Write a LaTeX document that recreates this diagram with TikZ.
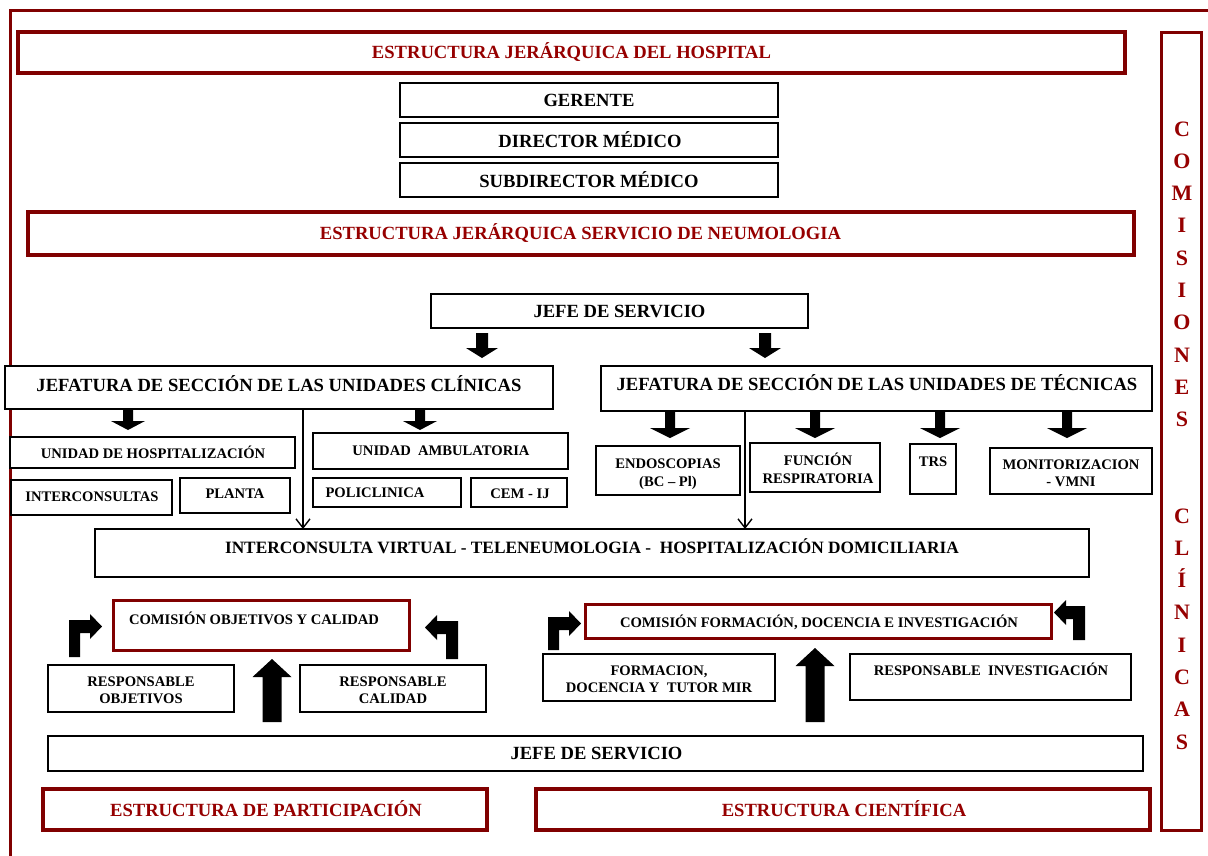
\documentclass[tikz,border=0pt]{standalone}
\usepackage{fontspec}
\setmainfont{Liberation Serif}
\usetikzlibrary{arrows.meta}
\definecolor{dred}{RGB}{128,0,0}
\definecolor{tred}{RGB}{150,0,0}
\newcommand\fL{\fontsize{18.6}{22}\selectfont\bfseries}
\newcommand\fM{\fontsize{17.3}{20}\selectfont\bfseries}
\newcommand\fS{\fontsize{14.6}{17}\selectfont\bfseries}
\newcommand\fV{\fontsize{22}{26}\selectfont\bfseries}
\newcommand\bxn[6]{\node[#6,anchor=north west,inner sep=0pt,outer sep=0pt,minimum width={#4pt-#2pt},minimum height={#5pt-#3pt}] (#1) at (#2,#3) {};}
\newcommand\dnarrow[6]{\fill (#1-#5,#2) -- (#1+#5,#2) -- (#1+#5,#3) -- (#1+#6,#3) -- (#1,#4) -- (#1-#6,#3) -- (#1-#5,#3) -- cycle;}
\begin{document}
\begin{tikzpicture}[x=1pt,y=-1pt,
  bbox/.style={draw=black,line width=1.6pt,fill=white},
  rbox/.style={draw=dred,line width=3.8pt,fill=white},
  rboxs/.style={draw=dred,line width=3pt,fill=white},
  tL/.style={font=\fL,anchor=base,inner sep=0pt},
  tM/.style={font=\fM,anchor=base,inner sep=0pt},
  tS/.style={font=\fS,anchor=base,inner sep=0pt},
  tR/.style={font=\fL,text=tred,anchor=base,inner sep=0pt},
  tRs/.style={font=\fS,anchor=base,inner sep=0pt},
  tarrow/.style={draw=black,line width=1.4pt,-{Straight Barb[length=9pt,width=14pt,line width=1.4pt]}}]
\useasboundingbox (0,0) rectangle (1208,855);
\fill[white] (0,0) rectangle (1208,855);
% outer frame
\draw[dred,line width=3pt] (10,857) -- (10,10) -- (1210,10);
% boxes
\bxn{hosp}{18}{32}{1125}{73}{rbox}
\bxn{ger}{400}{83}{778}{117}{bbox}
\bxn{dir}{400}{123}{778}{157}{bbox}
\bxn{sub}{400}{163}{778}{197}{bbox}
\bxn{neu}{28}{212}{1134}{255}{rbox}
\bxn{jefe}{431}{294}{808}{328}{bbox}
\bxn{jcl}{5}{366}{553}{409}{bbox}
\bxn{jte}{601}{366}{1152}{411}{bbox}
\bxn{uho}{10}{437}{295}{468}{bbox}
\bxn{uam}{313}{433}{568}{469}{bbox}
\bxn{int}{11}{480}{172}{515}{bbox}
\bxn{pla}{180}{478}{290}{513}{bbox}
\bxn{pol}{313}{478}{461}{507}{bbox}
\bxn{cem}{471}{478}{567}{507}{bbox}
\bxn{end}{596}{446}{740}{495}{bbox}
\bxn{fun}{750}{443}{880}{492}{bbox}
\bxn{trs}{910}{444}{956}{494}{bbox}
\bxn{mon}{990}{448}{1152}{494}{bbox}
\bxn{iv}{95}{529}{1089}{577}{bbox}
\bxn{cob}{113}{600}{409}{650}{rboxs}
\bxn{cfo}{585}{604}{1051}{638}{rboxs}
\bxn{rob}{48}{665}{234}{712}{bbox}
\bxn{rca}{300}{665}{486}{712}{bbox}
\bxn{fdt}{543}{654}{775}{701}{bbox}
\bxn{rin}{850}{654}{1131}{700}{bbox}
\bxn{jefeb}{48}{736}{1143}{771}{bbox}
\bxn{epa}{43}{789}{487}{830}{rbox}
\bxn{eci}{536}{789}{1150}{830}{rbox}
\bxn{com}{1161}{32}{1201}{830}{rboxs}
% texts
\node[tR] (thosp) at (571.5,58) {ESTRUCTURA JERÁRQUICA DEL HOSPITAL};
\node[tL] (tger) at (589,106) {GERENTE};
\node[tL] (tdir) at (590,147) {DIRECTOR MÉDICO};
\node[tL] (tsub) at (589,187) {SUBDIRECTOR MÉDICO};
\node[tR] (tneu) at (580.5,239) {ESTRUCTURA JERÁRQUICA SERVICIO DE NEUMOLOGIA};
\node[tL] (tjefe) at (619.5,317) {JEFE DE SERVICIO};
\node[tL] (tjcl) at (279,391) {JEFATURA DE SECCIÓN DE LAS UNIDADES CLÍNICAS};
\node[tL] (tjte) at (877,390) {JEFATURA DE SECCIÓN DE LAS UNIDADES DE TÉCNICAS};
\node[tS] (tuho) at (153,458) {UNIDAD DE HOSPITALIZACIÓN};
\node[tS] (tuam) at (441,455) {UNIDAD\ \ AMBULATORIA};
\node[tS] (tint) at (92,501) {INTERCONSULTAS};
\node[tS] (tpla) at (235,498) {PLANTA};
\node[tS] (tpol) at (375,497) {POLICLINICA};
\node[tS] (tcem) at (520,498) {CEM - IJ};
\node[tS] (tend1) at (668,468) {ENDOSCOPIAS};
\node[tS] (tend2) at (668,486) {(BC – Pl)};
\node[tS] (tfun1) at (818,465) {FUNCIÓN};
\node[tS] (tfun2) at (818,483) {RESPIRATORIA};
\node[tS] (ttrs) at (933,466) {TRS};
\node[tS] (tmon1) at (1071,469) {MONITORIZACION};
\node[tS] (tmon2) at (1071,486) {- VMNI};
\node[tM] (tiv) at (592,553) {INTERCONSULTA VIRTUAL - TELENEUMOLOGIA -\ \ HOSPITALIZACIÓN DOMICILIARIA};
\node[tS] (tcob) at (254,624) {COMISIÓN OBJETIVOS Y CALIDAD};
\node[tS] (tcfo) at (819,627) {COMISIÓN FORMACIÓN, DOCENCIA E INVESTIGACIÓN};
\node[tS] (trob1) at (141,686) {RESPONSABLE};
\node[tS] (trob2) at (141,703) {OBJETIVOS};
\node[tS] (trca1) at (393,686) {RESPONSABLE};
\node[tS] (trca2) at (393,703) {CALIDAD};
\node[tS] (tfdt1) at (659,675) {FORMACION,};
\node[tS] (tfdt2) at (659,692) {DOCENCIA Y\ \ TUTOR MIR};
\node[tS] (trin) at (991,675) {RESPONSABLE\ \ INVESTIGACIÓN};
\node[tL] (tjefeb) at (596.5,759) {JEFE DE SERVICIO};
\node[tR] (tepa) at (266,816) {ESTRUCTURA DE PARTICIPACIÓN};
\node[tR] (teci) at (844,816) {ESTRUCTURA CIENTÍFICA};
\foreach \l [count=\i] in {C,O,M,I,S,I,O,N,E,S}
  \node[font=\fV,text=tred,anchor=base,inner sep=0pt] (va\i) at (1182,{136+(\i-1)*32.3}) {\l};
\foreach \l [count=\i] in {C,L,Í,N,I,C,A,S}
  \node[font=\fV,text=tred,anchor=base,inner sep=0pt] (vb\i) at (1182,{523+(\i-1)*32.3}) {\l};
% block arrows down
\dnarrow{482}{333}{348}{358}{6}{16}
\dnarrow{765}{333}{348}{358}{6}{16}
\dnarrow{128}{410}{421}{430}{5}{17}
\dnarrow{420}{410}{421}{430}{5}{17}
\dnarrow{670}{412}{428}{438}{5}{20}
\dnarrow{815}{412}{428}{438}{5}{20}
\dnarrow{940}{412}{428}{438}{5}{20}
\dnarrow{1067}{412}{428}{438}{5}{20}
% big up arrows
\dnarrow{272}{722}{677}{659}{9.5}{19.5}
\dnarrow{815}{722}{666}{648}{9.5}{19.5}
% bent arrows
\fill (69,657) -- (69,620) -- (90,620) -- (90,614) -- (102,626.5) -- (90,639) -- (90,633) -- (80,633) -- (80,657) -- cycle;
\fill (458,659) -- (458,621) -- (437,621) -- (437,615) -- (425,627.5) -- (437,640) -- (437,634) -- (446,634) -- (446,659) -- cycle;
\fill (548,650) -- (548,617) -- (569,617) -- (569,611) -- (581,623.5) -- (569,636) -- (569,630) -- (559,630) -- (559,650) -- cycle;
\fill (1085,640) -- (1085,606) -- (1066,606) -- (1066,600) -- (1054,612.5) -- (1066,625) -- (1066,619) -- (1073,619) -- (1073,640) -- cycle;
% thin arrows
\coordinate (xa) at (303,0);
\coordinate (xb) at (745,0);
\draw[tarrow] (jcl.south -| xa) -- (iv.north -| xa);
\draw[tarrow] (jte.south -| xb) -- (iv.north -| xb);
\end{tikzpicture}
\end{document}
